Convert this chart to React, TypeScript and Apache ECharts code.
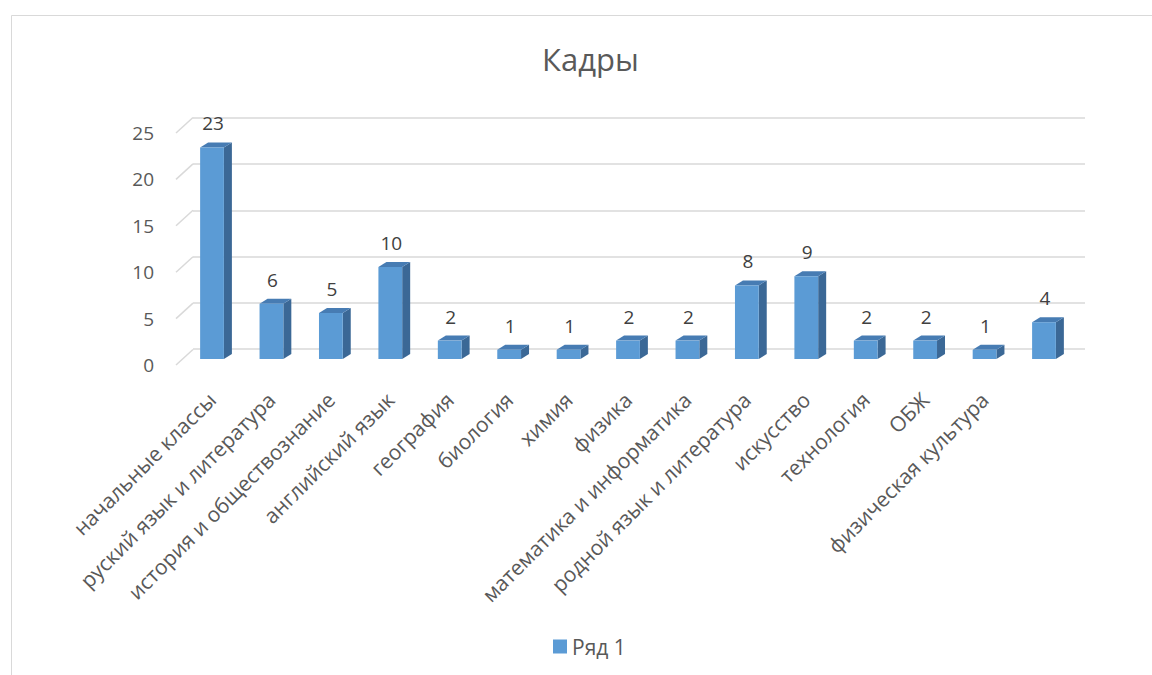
import React, { useEffect, useRef } from "react";
import * as echarts from "echarts";

const categories = [
  "начальные классы",
  "руский язык и литература",
  "история и обществознание",
  "английский язык",
  "география",
  "биология",
  "химия",
  "физика",
  "математика и информатика",
  "родной язык и литература",
  "искусство",
  "технология",
  "ОБЖ",
  "физическая культура",
  "",
];
const values = [23, 6, 5, 10, 2, 1, 1, 2, 2, 8, 9, 2, 2, 1, 4];
const tickValues = [0, 5, 10, 15, 20, 25];
const seriesName = "Ряд 1";
const titleText = "Кадры";

const FONT = "'Open Sans', Lato, sans-serif";
const TEXT = "#595959";

export default function App() {
  const ref = useRef<HTMLDivElement>(null);
  useEffect(() => {
    if (!ref.current) return;
    const chart = echarts.init(ref.current, null, { renderer: "svg" });
    const DX = 8;
    const DY = -5;
    const option: any = {
      animation: false,
      backgroundColor: "#ffffff",
      textStyle: { fontFamily: FONT },
      title: {
        text: titleText,
        left: 537,
        top: 38,
        textStyle: { fontFamily: FONT, fontSize: 31, fontWeight: "normal", color: TEXT },
      },
      legend: {
        data: [seriesName],
        left: 553,
        top: 636,
        padding: 0,
        icon: "rect",
        itemWidth: 14,
        itemHeight: 14,
        itemGap: 6,
        textStyle: { fontFamily: FONT, fontSize: 21, color: TEXT },
      },
      graphic: [
        {
          type: "rect",
          left: 9,
          top: 13,
          z: -10,
          shape: { width: 1300, height: 1000 },
          style: { fill: "none", stroke: "#D9D9D9", lineWidth: 1 },
        },
      ],
      grid: [
        { left: 193, right: 67, top: 118, bottom: 326 },
        { left: 182.3, right: 78.3, top: 129, bottom: 316 },
        { left: 176, right: 900, top: 133, bottom: 310 },
      ],
      xAxis: [
        { gridIndex: 0, type: "category", data: categories, show: false },
        {
          gridIndex: 1,
          type: "category",
          data: categories,
          axisLine: { show: false },
          axisTick: { show: false },
          axisLabel: {
            interval: 0,
            rotate: 45,
            margin: 37,
            fontFamily: FONT,
            fontSize: 21,
            color: TEXT,
          },
        },
        { gridIndex: 2, type: "value", min: 0, max: 1, show: false },
      ],
      yAxis: [
        {
          gridIndex: 0,
          type: "value",
          min: 0,
          max: 25,
          interval: 5,
          axisLine: { show: false },
          axisTick: { show: false },
          axisLabel: { show: false },
          splitLine: { show: true, lineStyle: { color: "#D9D9D9", width: 1.5 } },
        },
        {
          gridIndex: 1,
          type: "value",
          min: 0,
          max: 25,
          interval: 5,
          show: false,
          splitLine: { show: false },
        },
        {
          gridIndex: 2,
          type: "value",
          min: 0,
          max: 25,
          interval: 5,
          axisLine: { show: false },
          axisTick: { show: false },
          splitLine: { show: false },
          axisLabel: { margin: 22, fontFamily: FONT, fontSize: 19, color: TEXT },
        },
      ],
      series: [
        {
          type: "custom",
          name: "diag",
          xAxisIndex: 2,
          yAxisIndex: 2,
          silent: true,
          data: tickValues.map((v) => [0, v]),
          renderItem: (params: any, api: any) => {
            const p = api.coord([0, api.value(1)]);
            return {
              type: "line",
              shape: { x1: p[0], y1: p[1], x2: p[0] + 17, y2: p[1] - 15.5 },
              style: { stroke: "#D9D9D9", lineWidth: 1.5 },
            };
          },
        },
        {
          type: "custom",
          name: seriesName,
          xAxisIndex: 1,
          yAxisIndex: 1,
          itemStyle: { color: "#5B9BD5" },
          data: values.map((v, i) => [i, v]),
          renderItem: (params: any, api: any) => {
            const i = api.value(0);
            const v = api.value(1);
            const p0 = api.coord([i, 0]);
            const p1 = api.coord([i, v]);
            const w = api.size([1, 0])[0] * 0.4;
            const x = p0[0] - w / 2;
            const yb = p0[1];
            const yt = p1[1];
            return {
              type: "group",
              children: [
                {
                  type: "polygon",
                  shape: {
                    points: [
                      [x + w, yt],
                      [x + w + DX, yt + DY],
                      [x + w + DX, yb + DY],
                      [x + w, yb],
                    ],
                  },
                  style: { fill: "#3B6896" },
                },
                {
                  type: "polygon",
                  shape: {
                    points: [
                      [x, yt],
                      [x + DX, yt + DY],
                      [x + w + DX, yt + DY],
                      [x + w, yt],
                    ],
                  },
                  style: { fill: "#477CB3" },
                },
                {
                  type: "rect",
                  shape: { x: x, y: yt, width: w, height: yb - yt },
                  style: { fill: "#5B9BD5" },
                },
                {
                  type: "text",
                  x: p0[0] + 1,
                  y: yt - 24,
                  style: {
                    text: String(v),
                    fontFamily: FONT,
                    fontSize: 19,
                    fill: "#404040",
                    align: "center",
                    verticalAlign: "middle",
                  },
                },
              ],
            };
          },
        },
      ],
    };
    chart.setOption(option);
    return () => chart.dispose();
  }, []);
  return (
    <div
      ref={ref}
      style={{ position: "fixed", left: 0, top: 0, width: 1152, height: 675 }}
    />
  );
}
